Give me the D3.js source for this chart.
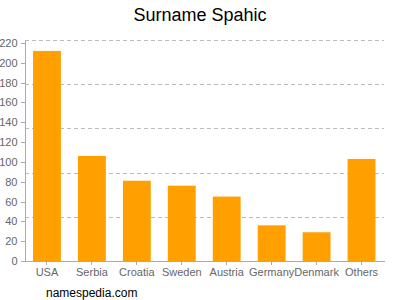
<!DOCTYPE html>
<html lang="en">
	<head>
		<meta charset="utf-8">
		<title>Surname Spahic</title>
		<script type="text/javascript" src="https://d3js.org/d3.v7.min.js"></script>
		<style type="text/css">
			body {
			  margin: 0;
			  font-family: "Liberation Sans", Arial, sans-serif;
			}
			.axis path,
			.axis line {
			  fill: none;
			  stroke: #aaa;
			  shape-rendering: crispEdges;
			}
			.axis text {
			  fill: #666;
			  font-size: 11px;
			}
			.grid line {
			  stroke: #bbb;
			  stroke-dasharray: 4,3;
			  shape-rendering: crispEdges;
			}
			.bar {
			  fill: #ffa000;
			}
		</style>
	</head>
	<body>
		<script type="text/javascript">

			var w = 400,
			    h = 300;

			var countries = ["USA", "Serbia", "Croatia", "Sweden", "Austria", "Germany", "Denmark", "Others"];
			var counts = [212, 106, 81, 76, 65, 36, 29, 103];
			var yTicks = [0, 20, 40, 60, 80, 100, 120, 140, 160, 180, 200, 220];

			// plot edges ("top" is taken by window.top, so prefix them)
			var plotLeft = 24.5,
			    plotRight = 384,
			    plotTop = 40,
			    plotBottom = 261;

			var yMax = 223;

			var svg = d3.select("body")
			            .append("svg")
			            .attr("width", w)
			            .attr("height", h);

			var xScale = d3.scaleBand()
			               .domain(countries)
			               .range([plotLeft, plotRight])
			               .paddingInner(0.38)
			               .paddingOuter(0.19);

			var yScale = d3.scaleLinear()
			               .domain([0, yMax])
			               .range([plotBottom, plotTop]);

			// dashed grid, five equal steps of the range
			var gridVals = d3.range(1, 6).map(function(i) { return yMax * i / 5; });
			svg.append("g")
			   .attr("class", "grid")
			   .selectAll("line")
			   .data(gridVals)
			   .enter()
			   .append("line")
			   .attr("x1", plotLeft)
			   .attr("x2", plotRight)
			   .attr("y1", function(d) { return Math.round(yScale(d)) + 0.5; })
			   .attr("y2", function(d) { return Math.round(yScale(d)) + 0.5; });

			svg.selectAll("rect.bar")
			   .data(counts)
			   .enter()
			   .append("rect")
			   .attr("class", "bar")
			   .attr("x", function(d, i) { return xScale(countries[i]); })
			   .attr("width", xScale.bandwidth())
			   .attr("y", function(d) { return yScale(d); })
			   .attr("height", function(d) { return plotBottom - yScale(d); });

			svg.append("g")
			   .attr("class", "axis")
			   .attr("transform", "translate(" + plotLeft + ",0)")
			   .call(d3.axisLeft(yScale).tickValues(yTicks).tickSize(4).tickPadding(3).tickSizeOuter(0));

			svg.append("g")
			   .attr("class", "axis")
			   .attr("transform", "translate(0," + plotBottom + ")")
			   .call(d3.axisBottom(xScale).tickSize(4).tickPadding(3).tickSizeOuter(0));

			svg.append("text")
			   .attr("x", 200)
			   .attr("y", 21)
			   .attr("text-anchor", "middle")
			   .attr("font-size", "18px")
			   .attr("fill", "#000")
			   .text("Surname Spahic");

			svg.append("text")
			   .attr("x", 46)
			   .attr("y", 297)
			   .attr("font-size", "12px")
			   .attr("fill", "#000")
			   .text("namespedia.com");

		</script>
	</body>
</html>
